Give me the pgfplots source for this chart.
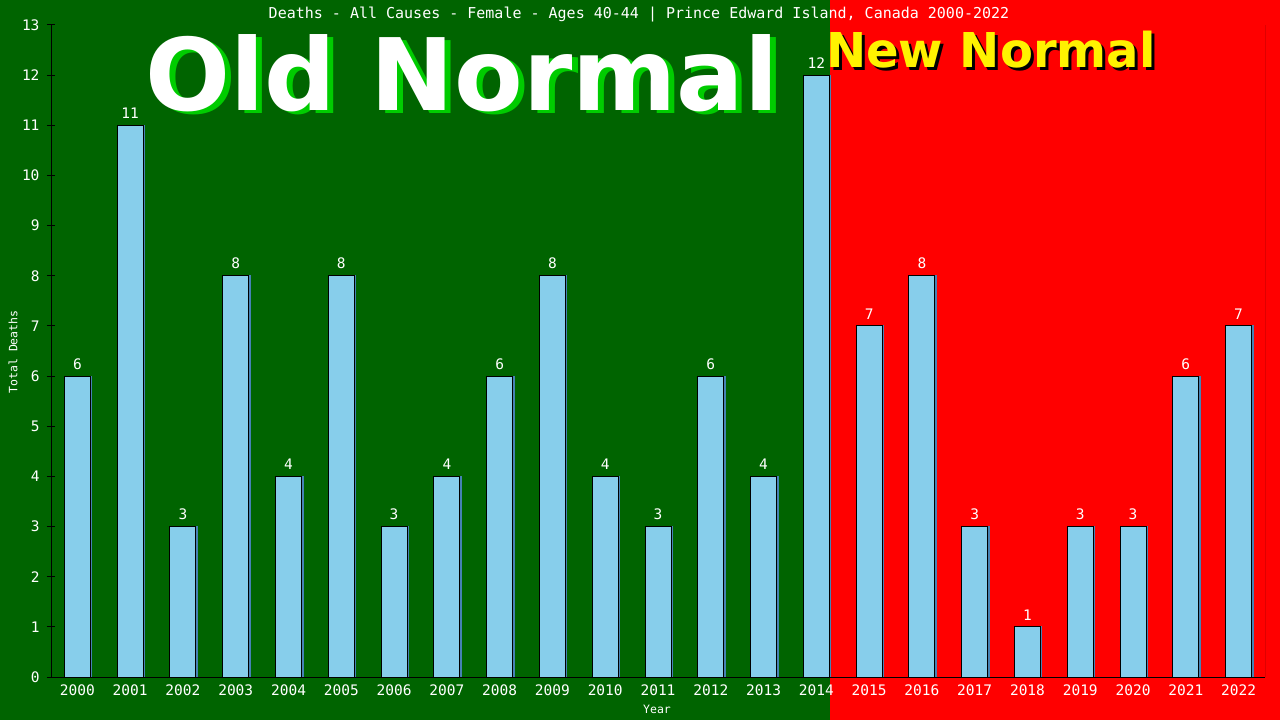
\documentclass[border=0pt]{standalone}
\usepackage{pgfplots}
\pgfplotsset{compat=1.18}
\usepackage{pgfplotstable}
\usepackage{fontspec}
\setmainfont{DejaVu Sans Mono}
\newfontfamily\bigfont{DejaVu Sans}
\definecolor{bggreen}{HTML}{006400}
\definecolor{bgred}{HTML}{FF0000}
\definecolor{barblue}{HTML}{87CEEB}
\definecolor{baredge}{HTML}{4682B4}
\definecolor{shadowgreen}{HTML}{00CC00}

\pgfplotstableread{
x year deaths
0  2000 6
1  2001 11
2  2002 3
3  2003 8
4  2004 4
5  2005 8
6  2006 3
7  2007 4
8  2008 6
9  2009 8
10 2010 4
11 2011 3
12 2012 6
13 2013 4
14 2014 12
15 2015 7
16 2016 8
17 2017 3
18 2018 1
19 2019 3
20 2020 3
21 2021 6
22 2022 7
}\deaths

\begin{document}
\begin{tikzpicture}
\useasboundingbox (0,0) rectangle (1280bp,720bp);
\fill[bggreen] (0,0) rectangle (830bp,720bp);
\fill[bgred] (830bp,0) rectangle (1280bp,720bp);

% big labels
\node[anchor=base west, inner sep=0, text=shadowgreen, font=\bigfont\bfseries\fontsize{100bp}{100bp}\selectfont] at (151bp,606bp) {Old Normal};
\node[anchor=base west, inner sep=0, text=white, font=\bigfont\bfseries\fontsize{100bp}{100bp}\selectfont] at (145bp,609bp) {Old Normal};
\node[anchor=base west, inner sep=0, text=black, font=\bigfont\bfseries\fontsize{48bp}{48bp}\selectfont] at (829bp,649bp) {New Normal};
\node[anchor=base west, inner sep=0, text=yellow, font=\bigfont\bfseries\fontsize{48bp}{48bp}\selectfont] at (826bp,652bp) {New Normal};

\begin{axis}[
    at={(51bp,43bp)}, anchor=south west,
    scale only axis,
    width=1214bp, height=652bp,
    xmin=-0.5, xmax=22.5,
    ymin=0, ymax=13,
    ytick={0,1,...,13},
    xtick={0,1,...,22},
    xticklabels={2000,2001,2002,2003,2004,2005,2006,2007,2008,2009,2010,2011,2012,2013,2014,2015,2016,2017,2018,2019,2020,2021,2022},
    axis x line*=bottom,
    axis y line*=left,
    axis line style={black, line width=1bp, -},
    x tick style={draw=none},
    y tick style={black, line width=1bp},
    tick align=center,
    major tick length=8bp,
    /pgf/number format/assume math mode=true,
    ticklabel style={white, font=\fontsize{14.5bp}{16bp}\selectfont},
    yticklabel style={xshift=-4bp},
]
% thin shade to the right of each bar
\addplot[
    ybar,
    bar width=26bp,
    bar shift=1.5bp,
    draw=baredge,
    fill=baredge,
    line width=1bp,
] table[x=x, y=deaths] {\deaths};
\addplot[
    ybar,
    bar width=26bp,
    fill=barblue,
    draw=black,
    line width=1bp,
    nodes near coords,
    nodes near coords style={white, font=\fontsize{14.5bp}{16bp}\selectfont, yshift=3bp},
] table[x=x, y=deaths] {\deaths};
\draw[black, line width=1bp] (rel axis cs:1,0) -- (rel axis cs:1,1);
\draw[black, line width=1bp] (rel axis cs:0,0) -- (rel axis cs:1,0);
\end{axis}

\node[text=white, font=\fontsize{15bp}{18bp}\selectfont] at (639bp,705bp) {Deaths - All Causes - Female - Ages 40-44 | Prince Edward Island, Canada 2000-2022};
\node[text=white, font=\fontsize{11.5bp}{13bp}\selectfont] at (657bp,11bp) {Year};
\node[text=white, rotate=90, font=\fontsize{11.5bp}{13bp}\selectfont] at (13bp,368bp) {Total Deaths};
\end{tikzpicture}
\end{document}
